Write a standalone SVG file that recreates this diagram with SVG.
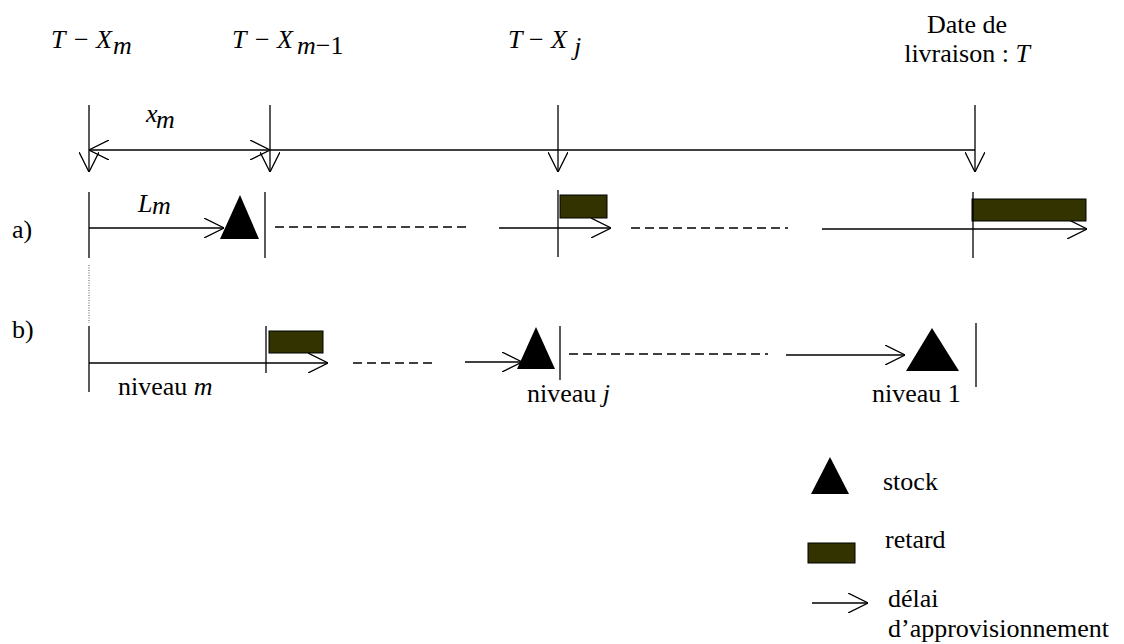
<svg xmlns="http://www.w3.org/2000/svg" width="1124" height="644" viewBox="0 0 1124 644">
<defs>
<marker id="ah" viewBox="0 0 20 20" refX="20" refY="10" markerWidth="20" markerHeight="20" markerUnits="userSpaceOnUse" orient="auto-start-reverse">
<path d="M0,0 L20,10 L0,20" fill="none" stroke="#000" stroke-width="1.3"/>
</marker>
<style>
text{font-family:'Liberation Serif',serif;font-size:26px;fill:#000}
.it{font-style:italic}
.ln{stroke:#000;stroke-width:1.3;fill:none}
.arr{stroke:#000;stroke-width:1.3;fill:none;marker-end:url(#ah)}
.dash{stroke:#000;stroke-width:1.3;stroke-dasharray:9,5;fill:none}
.tri{fill:#000}
.ret{fill:#333300;stroke:#000;stroke-width:1}
</style>
</defs>
<rect width="1124" height="644" fill="#fff"/>
<g font-family="Liberation Serif, serif" font-size="26">
<g id="labels-top">
<text x="51" y="48" class="it">T</text><text x="74" y="48">−</text><text x="96" y="48" class="it">X</text><text x="113" y="54" class="it">m</text>
<text x="232" y="48" class="it">T</text><text x="255" y="48">−</text><text x="277" y="48" class="it">X</text><text x="297" y="54"><tspan class="it">m</tspan>−1</text>
<text x="508" y="48" class="it">T</text><text x="529" y="48">−</text><text x="551" y="48" class="it">X</text><text x="574" y="55" class="it">j</text>
<text x="967" y="33" text-anchor="middle">Date de</text>
<text x="967" y="62" text-anchor="middle">livraison : <tspan class="it">T</tspan></text>
<text x="146" y="122" class="it">x</text><text x="156" y="128" class="it">m</text>
</g>

<g id="connectors">
<line class="arr" x1="89" y1="105" x2="89" y2="172"/>
<line class="arr" x1="270" y1="105" x2="270" y2="172"/>
<line class="arr" x1="558" y1="105" x2="558" y2="172"/>
<line class="arr" x1="975" y1="105" x2="975" y2="172"/>
<line class="arr" x1="89" y1="150" x2="270" y2="150" style="marker-start:url(#ah)"/>
<line class="ln" x1="270" y1="150" x2="975" y2="150"/>

<line class="arr" x1="89" y1="228" x2="224" y2="228"/>
<line class="dash" x1="275" y1="227" x2="468" y2="227"/>
<line class="arr" x1="499" y1="228" x2="611" y2="228"/>
<line class="dash" x1="631" y1="228" x2="788" y2="228"/>
<line class="arr" x1="822" y1="229" x2="1087" y2="229"/>
<line x1="89" y1="265" x2="89" y2="323" stroke="#555" stroke-width="1" stroke-dasharray="1,1.5"/>

<line class="arr" x1="89" y1="363" x2="328" y2="363"/>
<line class="dash" x1="353" y1="363" x2="436" y2="363"/>
<line class="arr" x1="465" y1="362" x2="522" y2="362"/>
<line class="dash" x1="569" y1="354" x2="768" y2="354"/>
<line class="arr" x1="786" y1="355" x2="905" y2="355"/>
</g>

<g id="row-a">
<text x="12" y="238">a)</text>
<line class="ln" x1="89" y1="192" x2="89" y2="258"/>
<text x="138" y="212" class="it">L</text><text x="152" y="214" class="it">m</text>
<polygon class="tri" points="220,239 259,239 240,195"/>
<line class="ln" x1="265" y1="192" x2="265" y2="258"/>
<line class="ln" x1="558" y1="190" x2="558" y2="257"/>
<rect class="ret" x="560" y="195" width="47" height="23"/>
<rect class="ret" x="972" y="199" width="114" height="22"/>
<line class="ln" x1="973" y1="192" x2="973" y2="258"/>
</g>

<g id="row-b">
<text x="12" y="338">b)</text>
<line class="ln" x1="89" y1="326" x2="89" y2="392"/>
<line class="ln" x1="266" y1="326" x2="266" y2="373"/>
<rect class="ret" x="269" y="331" width="54" height="22"/>
<polygon class="tri" points="517,369 555,369 536,327"/>
<line class="ln" x1="560" y1="326" x2="560" y2="380"/>
<polygon class="tri" points="906,371 959,371 932,328"/>
<line class="ln" x1="976" y1="323" x2="976" y2="387"/>
<text x="118" y="395">niveau  <tspan class="it">m</tspan></text>
<text x="527" y="402">niveau  <tspan class="it">j</tspan></text>
<text x="872" y="402">niveau 1</text>
</g>

<g id="legend">
<polygon class="tri" points="811,494 849,494 830,457"/>
<text x="883" y="490">stock</text>
<rect class="ret" x="808" y="543" width="47" height="20"/>
<text x="885" y="548">retard</text>
<line class="arr" x1="812" y1="603" x2="868" y2="603"/>
<text x="888" y="607">délai</text>
<text x="888" y="637">d’approvisionnement</text>
</g>
</g>
</svg>
